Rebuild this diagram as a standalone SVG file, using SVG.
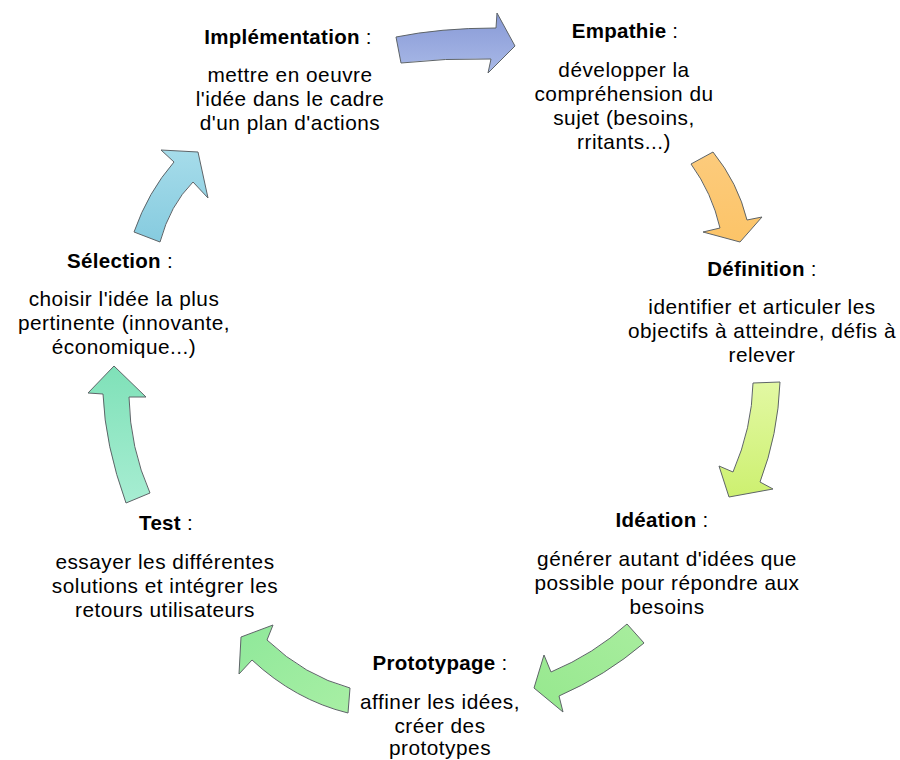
<svg xmlns="http://www.w3.org/2000/svg" width="900" height="760" viewBox="0 0 900 760">
<defs>
<linearGradient id="gBlue" x1="0" y1="0" x2="0" y2="1"><stop offset="0" stop-color="#8799D6"/><stop offset="1" stop-color="#A9B9E7"/></linearGradient>
<linearGradient id="gOrange" x1="0" y1="0" x2="0" y2="1"><stop offset="0" stop-color="#FCCB7C"/><stop offset="1" stop-color="#FCC468"/></linearGradient>
<linearGradient id="gLime" x1="0" y1="0" x2="0" y2="1"><stop offset="0" stop-color="#E2F8A3"/><stop offset="1" stop-color="#CDF070"/></linearGradient>
<linearGradient id="gGreen1" x1="1" y1="0" x2="0" y2="1"><stop offset="0" stop-color="#A8ED9E"/><stop offset="1" stop-color="#96E88E"/></linearGradient>
<linearGradient id="gGreen2" x1="1" y1="1" x2="0" y2="0"><stop offset="0" stop-color="#A8EFA4"/><stop offset="1" stop-color="#8FE89A"/></linearGradient>
<linearGradient id="gMint" x1="0" y1="0" x2="0" y2="1"><stop offset="0" stop-color="#7FE1B8"/><stop offset="1" stop-color="#A7EDD2"/></linearGradient>
<linearGradient id="gSky" x1="0" y1="0" x2="0" y2="1"><stop offset="0" stop-color="#A6DCEA"/><stop offset="1" stop-color="#86CBDF"/></linearGradient>
</defs>
<style>
.arr{stroke:#5E6468;stroke-width:1;stroke-linejoin:miter}
text{font-family:"Liberation Sans",Arial,sans-serif;font-size:20.8px;letter-spacing:0.5px;fill:#000;text-anchor:middle}
.hd{font-size:20.5px;letter-spacing:0.3px}
.h{font-weight:bold}
</style>
<rect width="900" height="760" fill="#FFFFFF"/>
<g id="connectors">
<path class="arr" fill="url(#gBlue)" d="M396,37 Q440,28 496,28 L497,13 L515,46 L488,73 L491,59 Q445,58 401,63 Z"/>
<path class="arr" fill="url(#gOrange)" d="M691,164 L713,152 Q738,183 747,220 L762,217 L740,242 L703,232 L720,228 Q712,193 691,164 Z"/>
<path class="arr" fill="url(#gLime)" d="M753,383 L780,382 Q778,435 760,482 L773,489 L729,497 L719,466 L733,472 Q752,428 753,383 Z"/>
<path class="arr" fill="url(#gGreen1)" d="M627,624 L644,643 Q605,676 559,696 L563,712 L534,688 L544,655 L551,672 Q594,654 627,624 Z"/>
<path class="arr" fill="url(#gGreen2)" d="M350,688 L348,713 Q295,700 252,660 L239,674 L241,637 L273,625 L267,640 Q305,676 350,688 Z"/>
<path class="arr" fill="url(#gMint)" d="M126,503 L150,493 Q130,448 129,397 L146,397 L114,366 L88,393 L103,394 Q105,445 126,503 Z"/>
<path class="arr" fill="url(#gSky)" d="M134,232 L160,242 Q170,205 193,182 L208,198 L198,152 L161,150 L174,162 Q148,192 134,232 Z"/>
</g>
<g id="implementation">
<text class="hd" x="288" y="44"><tspan class="h">Implémentation</tspan> :</text>
<text x="290" y="82">mettre en oeuvre</text>
<text x="290" y="106">l'idée dans le cadre</text>
<text x="290" y="130">d'un plan d'actions</text>
</g>
<g id="empathie">
<text class="hd" x="625" y="38"><tspan class="h">Empathie</tspan> :</text>
<text x="624" y="77">développer la</text>
<text x="624" y="101">compréhension du</text>
<text x="624" y="125">sujet (besoins,</text>
<text x="624" y="149">rritants...)</text>
</g>
<g id="definition">
<text class="hd" x="762" y="276"><tspan class="h">Définition</tspan> :</text>
<text x="762" y="314">identifier et articuler les</text>
<text x="762" y="338">objectifs à atteindre, défis à</text>
<text x="762" y="362">relever</text>
</g>
<g id="ideation">
<text class="hd" x="662" y="527"><tspan class="h">Idéation</tspan> :</text>
<text x="667" y="566">générer autant d'idées que</text>
<text x="667" y="590">possible pour répondre aux</text>
<text x="667" y="614">besoins</text>
</g>
<g id="prototypage">
<text class="hd" x="440" y="670"><tspan class="h">Prototypage</tspan> :</text>
<text x="440" y="709">affiner les idées,</text>
<text x="440" y="733">créer des</text>
<text x="440" y="755">prototypes</text>
</g>
<g id="test">
<text class="hd" x="166" y="530"><tspan class="h">Test</tspan> :</text>
<text x="165" y="569">essayer les différentes</text>
<text x="165" y="593">solutions et intégrer les</text>
<text x="165" y="617">retours utilisateurs</text>
</g>
<g id="selection">
<text class="hd" x="120" y="268"><tspan class="h">Sélection</tspan> :</text>
<text x="124" y="306">choisir l'idée la plus</text>
<text x="124" y="330">pertinente (innovante,</text>
<text x="124" y="354">économique...)</text>
</g>
</svg>
